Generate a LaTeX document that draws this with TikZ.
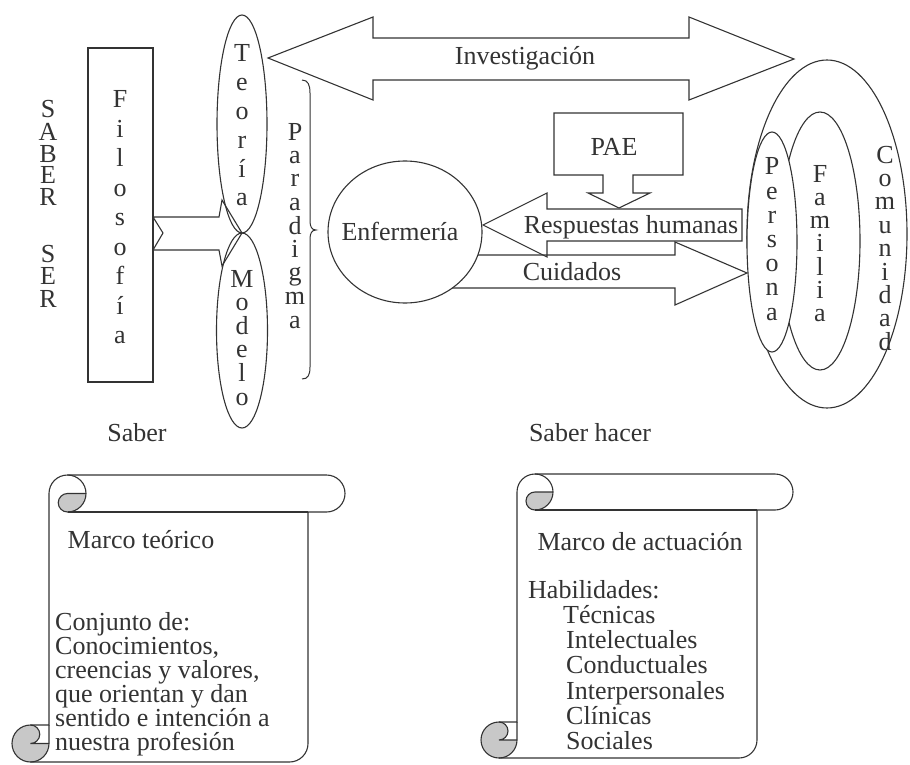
\documentclass[tikz,border=0pt]{standalone}
\usepackage{fontspec}
\setmainfont{Liberation Serif}
\usetikzlibrary{shapes.geometric}
\definecolor{ink}{HTML}{333333}
\definecolor{curl}{HTML}{C8C8C8}

% letters stacked one per line, centred; first baseline is the box baseline
\newcommand\vstk[2]{\vtop{\baselineskip=#1\lineskiplimit=-100pt\lineskip=0pt\halign{\hfil##\hfil\cr#2\crcr}}}
% left-aligned lines with a fixed baseline distance
\newcommand\lstk[2]{\vtop{\baselineskip=#1\lineskiplimit=-100pt\lineskip=0pt\halign{##\hfil\cr#2\crcr}}}

% vertical scroll: left, top, right, bottom, roll size
\newcommand\drawscroll[5]{%
  \pgfmathsetmacro\scrH{#5/2}%
  \pgfmathsetmacro\scrQ{#5/4}%
  \pgfmathsetmacro\scXa{#1+#5}%
  \pgfmathsetmacro\scXb{#1+#5/2}%
  \pgfmathsetmacro\scXc{#1+1.5*#5}%
  \pgfmathsetmacro\scXd{#1+2*#5}%
  \pgfmathsetmacro\scXf{#3-#5}%
  \pgfmathsetmacro\scXg{#3-#5/2}%
  \pgfmathsetmacro\scYa{#2+#5/2}%
  \pgfmathsetmacro\scYb{#2+#5}%
  \pgfmathsetmacro\scYc{#4-#5}%
  \pgfmathsetmacro\scYd{#4-#5/2}%
  % shaded curls
  \fill[curl] (\scXd,\scYa) arc (0:90:\scrH) arc (90:270:\scrQ) -- cycle;
  \fill[curl] (\scXa,\scYd) arc (0:270:\scrH) arc (270:450:\scrQ) -- cycle;
  % outline
  \draw[outline] (\scXa,\scYc) -- (\scXa,\scYa) arc (180:270:\scrH) -- (\scXg,#2)
    arc (270:450:\scrH) -- (\scXf,\scYb) -- (\scXf,\scYd) arc (0:90:\scrH)
    -- (\scXb,#4) arc (90:270:\scrH) -- cycle;
  \draw[outline] (\scXc,#2) arc (270:450:\scrH) arc (90:270:\scrQ) -- (\scXd,\scYa);
  \draw[outline] (\scXf,\scYb) -- (\scXc,\scYb);
  \draw[outline] (\scXb,\scYc) arc (270:450:\scrQ) -- (\scXa,\scYd);
  \draw[outline] (\scXb,#4) arc (90:0:\scrH) -- (\scXa,\scYc);
}

\begin{document}
\begin{tikzpicture}[x=1pt,y=-1pt]
\tikzset{
  outline/.style={draw=ink, line width=1.1pt, line join=miter},
  txt/.style={text=ink, font=\fontsize{26}{26}\selectfont, inner sep=0pt},
  blob/.style={ellipse, draw=ink, line width=1.1pt, inner sep=0pt}
}
\useasboundingbox[fill=white] (0,0) rectangle (910,765);

% ---- left column: Saber / Ser, Filosofía ----
\node[txt, anchor=base] (saberser) at (48,118)
  {\vstk{22pt}{S\cr A\cr B\cr E\cr R\cr\noalign{\vskip35pt} S\cr E\cr R}};
\node[draw=ink, line width=1.1pt, minimum width=65pt, minimum height=334pt, inner sep=0pt] (filo) at (120.5,215) {};
\node[txt, anchor=base] (filotxt) at (120,108)
  {\vstk{29.5pt}{F\cr i\cr l\cr o\cr s\cr o\cr f\cr í\cr a}};

% notched arrow from Filosofía to Teoría / Modelo
\draw[outline] (153,217) -- (219,217) -- (222,200) -- (242,233) -- (222,266)
  -- (219,250) -- (153,250) -- (163,233) -- cycle;

% ---- Teoría and Modelo, meeting tip to tip ----
\node[blob, minimum width=50pt, minimum height=218pt] (teoria) at (242,124) {};
\node[blob, minimum width=51pt, minimum height=195pt] (modelo) at (242,330.5) {};
\node[txt, anchor=base] (teoriatxt) at (242,62) {\vstk{28.8pt}{T\cr e\cr o\cr r\cr í\cr a}};
\node[txt, anchor=base] (modelotxt) at (242,287) {\vstk{23.6pt}{M\cr o\cr d\cr e\cr l\cr o}};

% ---- Paradigma brace ----
\draw[draw=ink, line width=1pt] (302,80) .. controls (308,80) and (310,85) .. (310,93)
  -- (310,221) .. controls (310,227) and (312,230) .. (316,230)
  .. controls (312,230) and (310,233) .. (310,239)
  -- (310,367) .. controls (310,375) and (308,379) .. (302,379);
\node[txt, anchor=base] (paradigma) at (295,140)
  {\vstk{23.5pt}{P\cr a\cr r\cr a\cr d\cr i\cr g\cr m\cr a}};

% ---- Investigación double arrow ----
\draw[outline] (268,58) -- (373,17) -- (373,38) -- (689,38) -- (689,17) -- (794,59)
  -- (689,100) -- (689,80) -- (373,80) -- (373,100) -- cycle;
\node[txt, anchor=base] (invest) at (525,65) {Investigación};

% ---- PAE callout ----
\draw[outline] (554,113) -- (683,113) -- (683,175) -- (633,175) -- (633,193) -- (650,193)
  -- (619,208) -- (588,193) -- (603,193) -- (603,175) -- (554,175) -- cycle;
\node[txt, anchor=base] (pae) at (614,155) {PAE};

% ---- Cuidados and Respuestas humanas ----
\draw[outline] (440,255) -- (675,255) -- (675,242) -- (747,273) -- (675,305) -- (675,288) -- (440,288);
\draw[outline] (483,225) -- (547,193) -- (547,209) -- (742,209) -- (742,241) -- (547,241) -- (547,257) -- cycle;

% ---- Enfermería ----
\node[blob, fill=white, minimum width=154pt, minimum height=142pt] (enf) at (405,232) {};
\node[txt, anchor=base] (enftxt) at (400,240) {Enfermería};
\node[txt, anchor=base] (resp) at (631,233) {Respuestas humanas};
\node[txt, anchor=base] (cuid) at (572,280) {Cuidados};

% ---- Comunidad, Familia, Persona ----
\node[blob, minimum width=160pt, minimum height=348pt] (comu) at (827,234) {};
\node[blob, fill=white, minimum width=80pt, minimum height=258pt] (fami) at (820,241) {};
\node[blob, fill=white, minimum width=50pt, minimum height=220pt] (pers) at (772,242) {};
\node[txt, anchor=base] (perstxt) at (772,175) {\vstk{24.2pt}{P\cr e\cr r\cr s\cr o\cr n\cr a}};
\node[txt, anchor=base] (famitxt) at (820,182) {\vstk{23.3pt}{F\cr a\cr m\cr i\cr l\cr i\cr a}};
\node[txt, anchor=base] (comutxt) at (885,163) {\vstk{23.4pt}{C\cr o\cr m\cr u\cr n\cr i\cr d\cr a\cr d}};

% ---- captions ----
\node[txt, anchor=base] (saber) at (137,441) {Saber};
\node[txt, anchor=base] (saberhacer) at (590,441) {Saber hacer};

% ---- scrolls ----
\drawscroll{12}{475}{345}{762}{37}
\drawscroll{481}{474}{793}{758}{36}

\node[txt, anchor=base] (marcoteo) at (141,548) {Marco teórico};
\node[txt, anchor=base west] (conjunto) at (55,630)
  {\lstk{24pt}{Conjunto de:\cr Conocimientos,\cr creencias y valores,\cr que orientan y dan\cr sentido e intención a\cr nuestra profesión}};

\node[txt, anchor=base] (marcoact) at (640,550) {Marco de actuación};
\node[txt, anchor=base west] (habil) at (528,598)
  {\lstk{25.3pt}{Habilidades:\cr\hskip35pt Técnicas\cr\hskip38pt Intelectuales\cr\hskip38pt Conductuales\cr\hskip38pt Interpersonales\cr\hskip38pt Clínicas\cr\hskip38pt Sociales}};
\end{tikzpicture}
\end{document}
